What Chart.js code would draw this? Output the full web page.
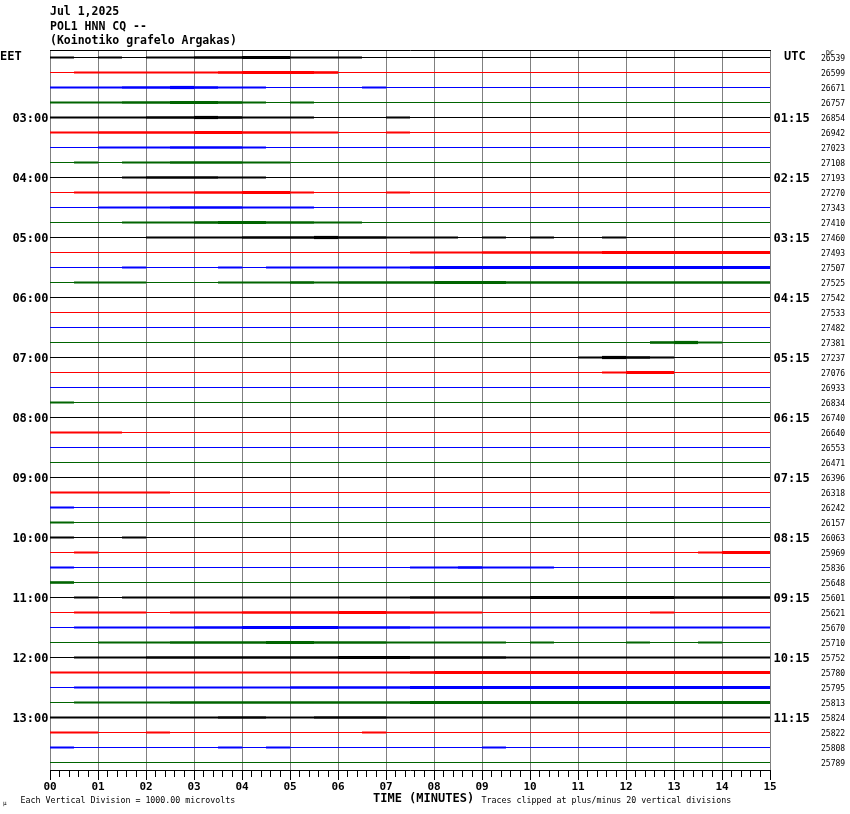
<!DOCTYPE html>
<html>
<head>
<meta charset="utf-8">
<script src="https://cdn.jsdelivr.net/npm/chart.js@4.4.1/dist/chart.umd.min.js"></script>
<style>
  html, body { margin: 0; padding: 0; background: #fff; }
  canvas { display: block; }
</style>
</head>
<body>
<canvas id="heli" width="850" height="814"></canvas>
<script>
// === Data read from the helicorder ===
const titleLines = ['Jul 1,2025', 'POL1 HNN CQ --', '(Koinotiko grafelo Argakas)'];
const minuteLabels = ['00', '01', '02', '03', '04', '05', '06', '07', '08', '09', '10', '11', '12', '13', '14', '15'];
const eetLabels = ['03:00', '04:00', '05:00', '06:00', '07:00', '08:00', '09:00', '10:00', '11:00', '12:00', '13:00'];
const utcLabels = ['01:15', '02:15', '03:15', '04:15', '05:15', '06:15', '07:15', '08:15', '09:15', '10:15', '11:15'];
const dcValues = [
  26539, 26599, 26671, 26757, 26854, 26942, 27023, 27108, 27193, 27270, 27343, 27410,
  27460, 27493, 27507, 27525, 27542, 27533, 27482, 27381, 27237, 27076, 26933, 26834,
  26740, 26640, 26553, 26471, 26396, 26318, 26242, 26157, 26063, 25969, 25836, 25648,
  25601, 25621, 25670, 25710, 25752, 25780, 25795, 25813, 25824, 25822, 25808, 25789
];
const traceColors = ['#000000', '#ff0000', '#0000ff', '#006400'];

// activity level of each trace per 30 s (0 quiet .. 3 dense)
const activity = [
  [1,0,1,0,1,1,2,2,3,3,1,1,1,0,0,0,0,0,0,0,0,0,0,0,0,0,0,0,0,0],
  [0,1,1,1,1,1,1,2,3,3,3,2,0,0,0,0,0,0,0,0,0,0,0,0,0,0,0,0,0,0],
  [1,1,1,2,2,3,2,1,1,0,0,0,0,1,0,0,0,0,0,0,0,0,0,0,0,0,0,0,0,0],
  [1,1,1,2,2,3,3,2,1,0,1,0,0,0,0,0,0,0,0,0,0,0,0,0,0,0,0,0,0,0],
  [1,1,1,1,2,2,3,2,1,1,1,0,0,0,1,0,0,0,0,0,0,0,0,0,0,0,0,0,0,0],
  [1,1,2,2,2,2,3,3,2,2,1,1,0,0,1,0,0,0,0,0,0,0,0,0,0,0,0,0,0,0],
  [0,0,1,1,1,2,2,2,1,0,0,0,0,0,0,0,0,0,0,0,0,0,0,0,0,0,0,0,0,0],
  [0,1,0,1,1,2,2,2,1,1,0,0,0,0,0,0,0,0,0,0,0,0,0,0,0,0,0,0,0,0],
  [0,0,0,1,2,2,2,1,1,0,0,0,0,0,0,0,0,0,0,0,0,0,0,0,0,0,0,0,0,0],
  [0,1,1,1,1,1,2,2,3,3,1,0,0,0,1,0,0,0,0,0,0,0,0,0,0,0,0,0,0,0],
  [0,0,1,1,1,2,2,2,1,1,1,0,0,0,0,0,0,0,0,0,0,0,0,0,0,0,0,0,0,0],
  [0,0,0,1,1,1,2,3,3,2,2,1,1,0,0,0,0,0,0,0,0,0,0,0,0,0,0,0,0,0],
  [0,0,0,0,1,1,1,1,2,2,2,3,2,2,1,1,1,0,1,0,1,0,0,1,0,0,0,0,0,0],
  [0,0,0,0,0,0,0,0,0,0,0,0,0,0,0,1,1,1,2,2,2,2,2,3,3,3,3,3,3,3],
  [0,0,0,1,0,0,0,1,0,1,1,1,1,1,1,2,3,3,3,3,3,3,3,3,3,3,3,3,3,3],
  [0,1,1,1,0,0,0,1,1,1,2,1,2,2,2,2,3,3,3,2,2,2,2,2,2,2,2,2,2,2],
  [0,0,0,0,0,0,0,0,0,0,0,0,0,0,0,0,0,0,0,0,0,0,0,0,0,0,0,0,0,0],
  [0,0,0,0,0,0,0,0,0,0,0,0,0,0,0,0,0,0,0,0,0,0,0,0,0,0,0,0,0,0],
  [0,0,0,0,0,0,0,0,0,0,0,0,0,0,0,0,0,0,0,0,0,0,0,0,0,0,0,0,0,0],
  [0,0,0,0,0,0,0,0,0,0,0,0,0,0,0,0,0,0,0,0,0,0,0,0,0,2,3,1,0,0],
  [0,0,0,0,0,0,0,0,0,0,0,0,0,0,0,0,0,0,0,0,0,0,1,3,2,1,0,0,0,0],
  [0,0,0,0,0,0,0,0,0,0,0,0,0,0,0,0,0,0,0,0,0,0,0,1,3,3,0,0,0,0],
  [0,0,0,0,0,0,0,0,0,0,0,0,0,0,0,0,0,0,0,0,0,0,0,0,0,0,0,0,0,0],
  [1,0,0,0,0,0,0,0,0,0,0,0,0,0,0,0,0,0,0,0,0,0,0,0,0,0,0,0,0,0],
  [0,0,0,0,0,0,0,0,0,0,0,0,0,0,0,0,0,0,0,0,0,0,0,0,0,0,0,0,0,0],
  [1,1,1,0,0,0,0,0,0,0,0,0,0,0,0,0,0,0,0,0,0,0,0,0,0,0,0,0,0,0],
  [0,0,0,0,0,0,0,0,0,0,0,0,0,0,0,0,0,0,0,0,0,0,0,0,0,0,0,0,0,0],
  [0,0,0,0,0,0,0,0,0,0,0,0,0,0,0,0,0,0,0,0,0,0,0,0,0,0,0,0,0,0],
  [0,0,0,0,0,0,0,0,0,0,0,0,0,0,0,0,0,0,0,0,0,0,0,0,0,0,0,0,0,0],
  [1,1,1,1,1,0,0,0,0,0,0,0,0,0,0,0,0,0,0,0,0,0,0,0,0,0,0,0,0,0],
  [1,0,0,0,0,0,0,0,0,0,0,0,0,0,0,0,0,0,0,0,0,0,0,0,0,0,0,0,0,0],
  [1,0,0,0,0,0,0,0,0,0,0,0,0,0,0,0,0,0,0,0,0,0,0,0,0,0,0,0,0,0],
  [1,0,0,1,0,0,0,0,0,0,0,0,0,0,0,0,0,0,0,0,0,0,0,0,0,0,0,0,0,0],
  [0,1,0,0,0,0,0,0,0,0,0,0,0,0,0,0,0,0,0,0,0,0,0,0,0,0,0,1,3,3],
  [1,0,0,0,0,0,0,0,0,0,0,0,0,0,0,1,1,2,1,1,1,0,0,0,0,0,0,0,0,0],
  [2,0,0,0,0,0,0,0,0,0,0,0,0,0,0,0,0,0,0,0,0,0,0,0,0,0,0,0,0,0],
  [0,1,0,1,1,1,1,1,1,1,1,1,1,1,1,2,2,2,2,2,3,3,3,3,3,3,2,2,2,2],
  [0,1,1,1,0,1,1,1,2,2,2,2,3,3,2,2,1,1,0,0,0,0,0,0,0,1,0,0,0,0],
  [0,1,1,1,1,1,2,2,3,3,3,3,2,2,2,1,1,1,1,1,1,1,1,1,1,1,1,1,1,1],
  [0,0,1,1,1,2,2,2,2,3,3,2,2,2,1,1,1,1,1,0,1,0,0,0,1,0,0,1,0,0],
  [0,1,1,1,2,2,2,2,2,2,2,2,3,3,3,2,2,2,2,1,1,1,1,1,1,1,1,1,1,1],
  [1,1,1,1,1,1,1,1,1,1,1,1,1,1,1,2,3,3,3,3,3,3,3,3,3,3,3,3,3,3],
  [0,1,1,1,1,1,1,1,1,1,2,2,2,2,2,3,3,3,3,3,3,3,3,3,3,3,3,3,3,3],
  [0,1,1,1,1,2,2,2,2,2,2,2,2,2,2,3,3,3,3,3,3,3,3,3,3,3,3,3,3,3],
  [1,1,1,1,1,1,1,2,2,1,1,2,2,2,1,1,1,1,1,1,1,1,1,1,1,1,1,1,1,1],
  [1,1,0,0,1,0,0,0,0,0,0,0,0,1,0,0,0,0,0,0,0,0,0,0,0,0,0,0,0,0],
  [1,0,0,0,0,0,0,1,0,1,0,0,0,0,0,0,0,0,1,0,0,0,0,0,0,0,0,0,0,0],
  [0,0,0,0,0,0,0,0,0,0,0,0,0,0,0,0,0,0,0,0,0,0,0,0,0,0,0,0,0,0]
];

// === Drawing settings ===
const LEVEL_WIDTH = [1, 2, 2.6, 3.2];
const BIN_MINUTES = 0.5;
const MONO = "'DejaVu Sans Mono', monospace";

function buildDatasets() {
  return activity.map((levels, row) => {
    const points = [];
    for (let i = 0; i <= levels.length; i++) {
      points.push({ x: i * BIN_MINUTES, y: row + 0.5 });
    }
    return {
      data: points,
      borderColor: traceColors[row % 4],
      borderWidth: 1,
      pointRadius: 0,
      borderCapStyle: 'butt',
      segment: {
        borderWidth: ctx => LEVEL_WIDTH[levels[ctx.p0DataIndex]]
      }
    };
  });
}

function isWholeMinute(v) {
  return Math.abs(v - Math.round(v)) < 1e-6;
}

// === Texts, top frame and long minute ticks ===
const helicorderText = {
  id: 'helicorderText',
  afterDraw(chart) {
    const { ctx, chartArea, scales } = chart;
    const xs = scales.x;
    const ys = scales.y;
    ctx.save();

    ctx.strokeStyle = '#000';
    ctx.lineWidth = 1;
    ctx.beginPath();
    ctx.moveTo(chartArea.left, chartArea.top + 0.5);
    ctx.lineTo(chartArea.right + 1, chartArea.top + 0.5);
    minuteLabels.forEach((_, m) => {
      const px = Math.round(xs.getPixelForValue(m)) + 0.5;
      ctx.moveTo(px, chartArea.bottom);
      ctx.lineTo(px, chartArea.bottom + 10);
    });
    ctx.stroke();

    ctx.fillStyle = '#000';
    ctx.textBaseline = 'middle';
    ctx.textAlign = 'left';
    ctx.font = 'bold 11.5px ' + MONO;
    titleLines.forEach((t, i) => ctx.fillText(t, 50, 12 + i * 14.6));

    ctx.font = 'bold 12px ' + MONO;
    ctx.fillText('EET', 0, 56.5);
    ctx.fillText('UTC', 784, 57);
    eetLabels.forEach((t, i) => {
      const py = ys.getPixelForValue((i + 1) * 4 + 0.5);
      ctx.textAlign = 'right';
      ctx.fillText(t, 48.5, py + 1);
      ctx.textAlign = 'left';
      ctx.fillText(utcLabels[i], 773.5, py + 1);
    });

    ctx.font = '8px ' + MONO;
    dcValues.forEach((v, row) => {
      ctx.fillText(String(v), 821, ys.getPixelForValue(row + 0.5) + 1);
    });
    ctx.font = '6.5px ' + MONO;
    ctx.fillText('DC', 826, 53);

    ctx.font = 'bold 12px ' + MONO;
    ctx.fillText('TIME (MINUTES)', 373, 799);
    ctx.font = '8.3px ' + MONO;
    ctx.fillText('Each Vertical Division = 1000.00 microvolts', 20.5, 800.5);
    ctx.fillText('Traces clipped at plus/minus 20 vertical divisions', 481.5, 800.5);
    ctx.font = '6px ' + MONO;
    ctx.fillText('\u00b5', 3, 803);

    ctx.restore();
  }
};

// === Chart ===
new Chart(document.getElementById('heli'), {
  type: 'line',
  data: { datasets: buildDatasets() },
  options: {
    responsive: false,
    animation: false,
    devicePixelRatio: 1,
    layout: { padding: { left: 50, right: 80, top: 50, bottom: 0 } },
    plugins: { legend: { display: false }, tooltip: { enabled: false } },
    scales: {
      x: {
        type: 'linear',
        min: 0,
        max: 15,
        afterFit: scale => { scale.height = 44; },
        border: { display: true, color: '#000', width: 1 },
        grid: {
          color: ctx => (isWholeMinute(ctx.tick.value) ? '#808080' : 'rgba(0,0,0,0)'),
          tickColor: '#000',
          tickLength: 7,
          lineWidth: 1
        },
        ticks: {
          stepSize: 0.2,
          autoSkip: false,
          maxRotation: 0,
          padding: 4,
          color: '#000',
          font: { family: MONO, size: 11, weight: 'bold' },
          callback: v => (isWholeMinute(v) ? minuteLabels[Math.round(v)] : '')
        }
      },
      y: {
        type: 'linear',
        min: 0,
        max: 48,
        reverse: true,
        display: false
      }
    }
  },
  plugins: [helicorderText]
});
</script>
</body>
</html>
